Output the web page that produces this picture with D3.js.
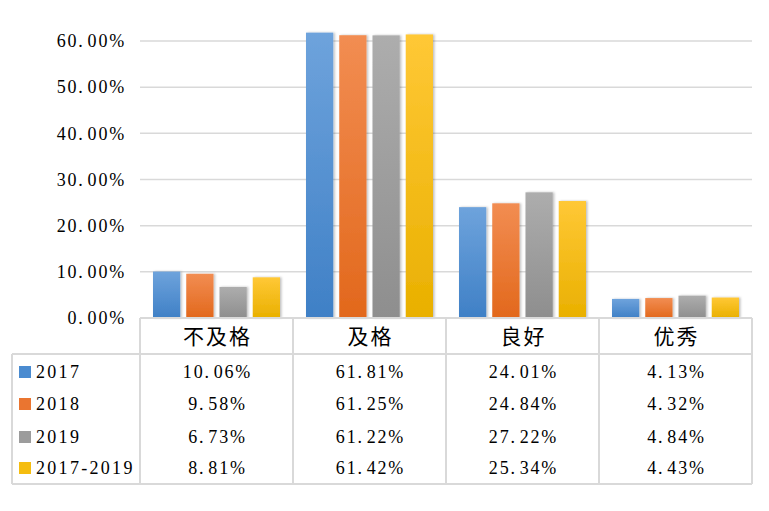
<!DOCTYPE html>
<html><head><meta charset="utf-8">
<script src="https://cdn.jsdelivr.net/npm/d3@7/dist/d3.min.js"></script>
<style>body{margin:0;background:#fff}</style>
</head><body><svg id="c" width="769" height="511"></svg>
<script>
const categories = ["不及格","及格","良好","优秀"];
const seriesNames = ["2017","2018","2019","2017-2019"];
const v2017 = [10.06, 61.81, 24.01, 4.13];
const v2018 = [9.58, 61.25, 24.84, 4.32];
const v2019 = [6.73, 61.22, 27.22, 4.84];
const vAll  = [8.81, 61.42, 25.34, 4.43];
const yTicks = [0, 10, 20, 30, 40, 50, 60];
const values = [v2017, v2018, v2019, vAll];
const colorsTop = ["#6ea3dc","#f28d52","#adadad","#ffc836"];
const colorsBot = ["#3f80c6","#e2681c","#8e8e8e","#e9b000"];
const keyColors = ["#4a8bd0","#ea7530","#9c9c9c","#f5bd10"];

const svg = d3.select("#c");
const L = 140, R = 752, T0 = 318;
const x0 = d3.scaleBand().domain(categories).range([L, R]);
const x1 = d3.scaleBand().domain(seriesNames).range([13, 140]).paddingInner(0.18);
const y = d3.scaleLinear().domain([0, 60]).range([T0, 41]);
const numFont = "'Liberation Serif','DejaVu Serif',serif";
const cjkFont = "'Noto Sans CJK SC','Noto Sans CJK JP',sans-serif";

function numText(sel, str) {
  const p = str.indexOf(".");
  sel.text(null);
  sel.append("tspan").text(str.slice(0, p + 1));
  sel.append("tspan").attr("dx", 3).text(str.slice(p + 1));
}

const defs = svg.append("defs");
seriesNames.forEach((s,i)=>{
  const g = defs.append("linearGradient").attr("id","g"+i).attr("x1",0).attr("x2",0).attr("y1",0).attr("y2",1);
  g.append("stop").attr("offset","0%").attr("stop-color",colorsTop[i]);
  g.append("stop").attr("offset","100%").attr("stop-color",colorsBot[i]);
});
const f = defs.append("filter").attr("id","sh").attr("x","-20%").attr("y","-20%").attr("width","150%").attr("height","150%");
f.append("feDropShadow").attr("dx",1.5).attr("dy",0).attr("stdDeviation",1.2).attr("flood-color","#000").attr("flood-opacity",0.25);

// gridlines
svg.append("g").selectAll("line").data(yTicks.filter(d=>d>0)).join("line")
  .attr("x1",L).attr("x2",R).attr("y1",d=>y(d)).attr("y2",d=>y(d))
  .attr("stroke","#d9d9d9").attr("stroke-width",1.5);

// y labels
svg.append("g").selectAll("text").data(yTicks).join("text")
  .attr("x",126).attr("y",d=>y(d)).attr("dy","0.35em").attr("text-anchor","end")
  .attr("font-family",numFont).attr("font-size",18).attr("letter-spacing",1.8).attr("fill","#000")
  .each(function(d){ numText(d3.select(this), d.toFixed(2)+"%"); });

// bars
const gb = svg.append("g");
categories.forEach((c,ci)=>{
  seriesNames.forEach((s,si)=>{
    const v = values[si][ci];
    gb.append("rect").attr("x",x0(c)+x1(s)).attr("width",x1.bandwidth())
      .attr("y",y(v)).attr("height",T0-y(v))
      .attr("fill","url(#g"+si+")").attr("filter","url(#sh)");
  });
});

// table
const lc = "#d9d9d9", lw = 2;
const tb = svg.append("g");
const rowTop = 354, rowBot = 484;
tb.append("line").attr("x1",L).attr("x2",R).attr("y1",T0).attr("y2",T0).attr("stroke",lc).attr("stroke-width",lw);
tb.append("line").attr("x1",12).attr("x2",R).attr("y1",rowTop).attr("y2",rowTop).attr("stroke",lc).attr("stroke-width",lw);
tb.append("line").attr("x1",12).attr("x2",R).attr("y1",rowBot).attr("y2",rowBot).attr("stroke",lc).attr("stroke-width",lw);
tb.append("line").attr("x1",12).attr("x2",12).attr("y1",rowTop).attr("y2",rowBot).attr("stroke",lc).attr("stroke-width",lw);
const colEdges = categories.map(c=>x0(c)).concat([R]);
tb.selectAll(".v").data(colEdges).join("line")
  .attr("x1",d=>d).attr("x2",d=>d).attr("y1",T0).attr("y2",rowBot).attr("stroke",lc).attr("stroke-width",lw);

// header labels
tb.selectAll(".h").data(categories).join("text")
  .attr("x",d=>x0(d)+x0.bandwidth()/2+1).attr("y",336).attr("dy","0.36em").attr("text-anchor","middle")
  .attr("font-family",cjkFont).attr("font-size",21).attr("letter-spacing",2).attr("fill","#000").text(d=>d);

const rowY = [372, 404, 437, 468];
seriesNames.forEach((s,si)=>{
  tb.append("rect").attr("x",19).attr("y",rowY[si]-6).attr("width",12).attr("height",12).attr("fill",keyColors[si]);
  tb.append("text").attr("x",36).attr("y",rowY[si]).attr("dy","0.35em")
    .attr("font-family",numFont).attr("font-size",18).attr("letter-spacing",2.3).attr("fill","#000").text(s);
  categories.forEach((c,ci)=>{
    tb.append("text").attr("x",x0(c)+x0.bandwidth()/2+1).attr("y",rowY[si]).attr("dy","0.35em").attr("text-anchor","middle")
      .attr("font-family",numFont).attr("font-size",18).attr("letter-spacing",1.8).attr("fill","#000")
      .each(function(){ numText(d3.select(this), values[si][ci].toFixed(2)+"%"); });
  });
});
</script></body></html>
